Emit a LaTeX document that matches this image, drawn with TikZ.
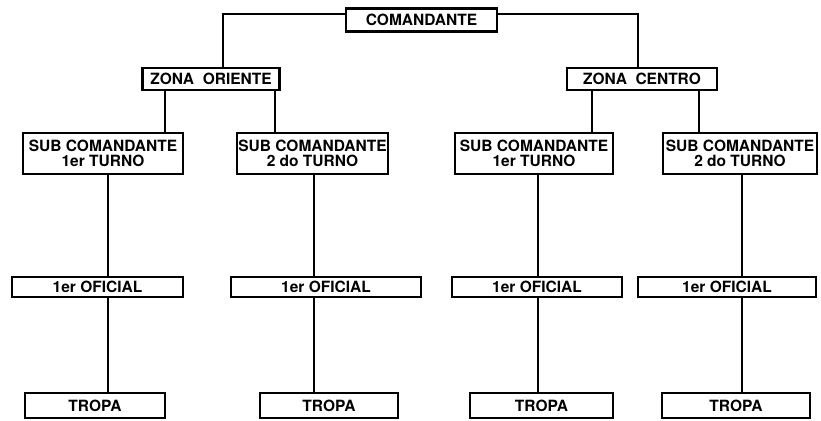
\documentclass[tikz,border=0pt]{standalone}
\usepackage{fontspec}
\setmainfont{TeX Gyre Heros}
\begin{document}
\begin{tikzpicture}[x=1pt,y=-1pt,
  box/.style={draw, line width=2.8pt, fill=white, inner sep=0pt, outer sep=0pt,
    align=center, font=\bfseries\fontsize{15.5}{15}\selectfont},
  link/.style={line width=1.4pt}]
\useasboundingbox (0,0) rectangle (821,420);

% top level
\node[box, minimum width=151, minimum height=23] (com) at (421.5,20) {COMANDANTE};

% zones
\node[box, minimum width=137, minimum height=22] (zo) at (211,79) {ZONA\ \ ORIENTE};
\node[box, minimum width=150, minimum height=22] (zc) at (642,79) {ZONA\ \ CENTRO};

% sub commanders
\node[box, minimum width=160, minimum height=41] (s1) at (103,153.5) {SUB COMANDANTE\\1er TURNO};
\node[box, minimum width=151, minimum height=41] (s2) at (312.5,153.5) {SUB COMANDANTE\\2 do TURNO};
\node[box, minimum width=158, minimum height=41] (s3) at (534,153.5) {SUB COMANDANTE\\1er TURNO};
\node[box, minimum width=154, minimum height=41] (s4) at (740,153.5) {SUB COMANDANTE\\2 do TURNO};

% officers
\node[box, minimum width=171, minimum height=20] (o1) at (97.5,287) {1er OFICIAL};
\node[box, minimum width=190, minimum height=20] (o2) at (326,287) {1er OFICIAL};
\node[box, minimum width=170, minimum height=20] (o3) at (537,287) {1er OFICIAL};
\node[box, minimum width=178, minimum height=20] (o4) at (727,287) {1er OFICIAL};

% troops
\node[box, minimum width=140, minimum height=25] (t1) at (95,405.5) {TROPA};
\node[box, minimum width=138, minimum height=25] (t2) at (329,405.5) {TROPA};
\node[box, minimum width=143, minimum height=25] (t3) at (541.5,405.5) {TROPA};
\node[box, minimum width=148, minimum height=25] (t4) at (736,405.5) {TROPA};

% connector columns
\coordinate (kzo) at (223,14);
\coordinate (kzc) at (638,14);
\coordinate (ks1) at (165,0);
\coordinate (ks2) at (275,0);
\coordinate (ks3) at (592,0);
\coordinate (ks4) at (699,0);
\coordinate (ko1) at (108,0);
\coordinate (ko2) at (314,0);
\coordinate (ko3) at (538,0);
\coordinate (ko4) at (742,0);

% commander to zones
\draw[link] (com.west |- kzo) -- (kzo) -- (zo.north -| kzo);
\draw[link] (com.east |- kzc) -- (kzc) -- (zc.north -| kzc);

% zones to sub commanders
\draw[link] (zo.south -| ks1) -- (s1.north -| ks1);
\draw[link] (zo.south -| ks2) -- (s2.north -| ks2);
\draw[link] (zc.south -| ks3) -- (s3.north -| ks3);
\draw[link] (zc.south -| ks4) -- (s4.north -| ks4);

% sub commanders to officers to troops
\draw[link] (s1.south -| ko1) -- (o1.north -| ko1) (o1.south -| ko1) -- (t1.north -| ko1);
\draw[link] (s2.south -| ko2) -- (o2.north -| ko2) (o2.south -| ko2) -- (t2.north -| ko2);
\draw[link] (s3.south -| ko3) -- (o3.north -| ko3) (o3.south -| ko3) -- (t3.north -| ko3);
\draw[link] (s4.south -| ko4) -- (o4.north -| ko4) (o4.south -| ko4) -- (t4.north -| ko4);
\end{tikzpicture}
\end{document}
